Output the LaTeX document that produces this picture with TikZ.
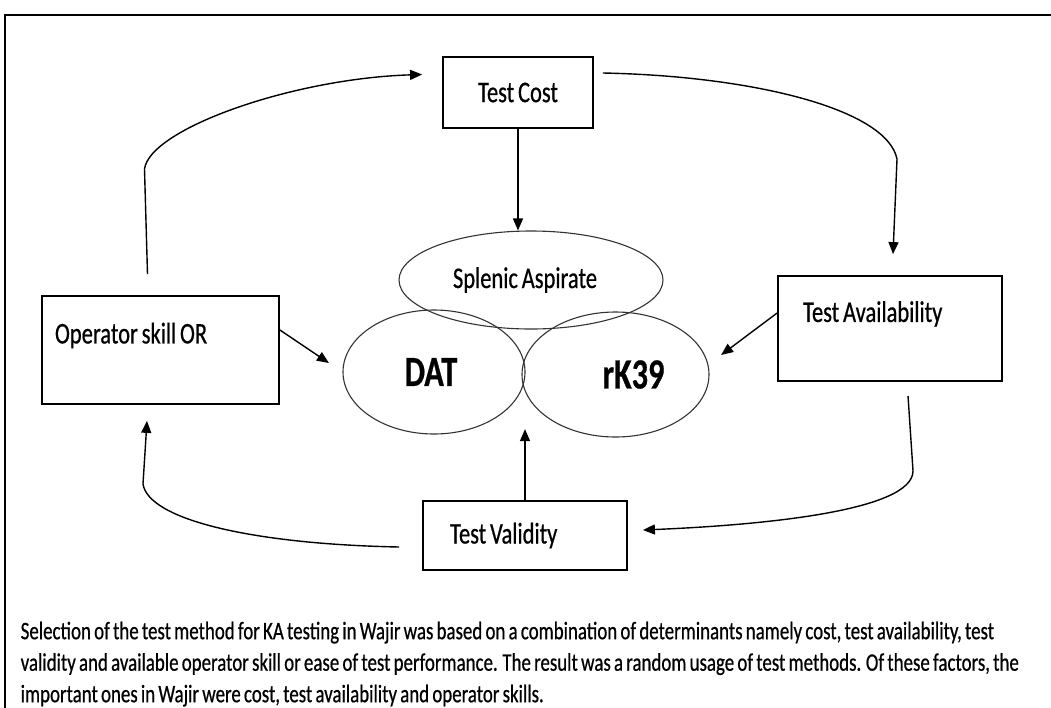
\documentclass[tikz,border=0pt]{standalone}
\usepackage{fontspec}
\setmainfont{Carlito}[FakeStretch=0.75,WordSpace=0.75,FakeBold=0.6]
\usetikzlibrary{shapes.geometric,arrows.meta}

\begin{document}
\begin{tikzpicture}[x=1pt,y=-1pt,line width=1.4pt,
      >={Triangle[length=12pt,width=10pt]},
      faktor/.style={draw,line width=1.8pt,inner sep=0pt,
        font=\fontsize{30}{34}\selectfont},
      metode/.style={draw=black!80,ellipse,line width=1.1pt,inner sep=0pt},
      catatan/.style={align=flush left,inner sep=0pt,
        font=\fontsize{25.2}{31.5}\selectfont}]

    \useasboundingbox (0,0) rectangle (1051,707);

    % --- Bingkai luar, terpotong di kanan dan bawah -------------------------
    \begin{scope}
      \clip (0,0) rectangle (1051,707);
      \draw[line width=2pt] (5,15) rectangle (1100,760);
    \end{scope}

    % --- Empat faktor penentu -------------------------------------------------
    \node[faktor,minimum width=150,minimum height=71] (cost) at (518,92.5)
      {Test Cost};
    \node[faktor,minimum width=237,minimum height=108,text width=211,
      align=flush left] (skill) at (160.5,350) {Operator skill OR\\\mbox{}};
    \node[faktor,minimum width=224,minimum height=105,text width=174,
      align=flush left] (avail) at (890,328.5) {Test Availability\\\mbox{}};
    \node[faktor,minimum width=204,minimum height=69,text width=150,
      align=flush left] (validity) at (525,535.5) {Test Validity};

    % --- Tiga metode uji ----------------------------------------------------
    \node[metode,minimum width=264,minimum height=98,
      font=\fontsize{30}{34}\selectfont] (splenic) at (531,280)
      {Splenic Aspirate\hspace*{12pt}};
    \node[metode,minimum width=182,minimum height=124,
      font=\fontsize{43}{44}\selectfont\bfseries] (dat) at (434,372)
      {DAT\hspace*{6pt}};
    \node[metode,minimum width=187,minimum height=125,
      font=\fontsize{43}{44}\selectfont\bfseries] (rk) at (615.5,374.5)
      {\hspace*{36pt}rK39};

    % --- Keterangan ---------------------------------------------------------
    \node[catatan,anchor=north west] (caption) at (20,621)
      {Selection of the test method for KA testing in Wajir was based on a
       combination of determinants namely cost, test availability, test\\
       validity and available operator skill or ease of test performance.
       The result was a random usage of test methods. Of these factors, the\\
       important ones in Wajir were cost, test availability and operator
       skills.};

    % --- Ujung bebas panah ----------------------------------------------------
    \coordinate (a1) at ([shift={(-13,-21)}]skill.north);
    \coordinate (a2) at ([shift={(-20,-18)}]cost.west);
    \coordinate (b1) at ([shift={(9,-19.5)}]cost.east);
    \coordinate (b2) at ([shift={(3,-21)}]avail.north);
    \coordinate (c1) at ([shift={(18,14)}]avail.south);
    \coordinate (c2) at ([shift={(15,-5.5)}]validity.east);
    \coordinate (d1) at ([shift={(-23,11.5)}]validity.west);
    \coordinate (d2) at ([shift={(-13.5,16)}]skill.south);
    \coordinate (e1) at ([shift={(0,-15.5)}]avail.west);
    \coordinate (e2) at ([shift={(-56,42)}]e1);
    \coordinate (f1) at ([shift={(0,-20)}]skill.east);
    \coordinate (f2) at ([shift={(49,33)}]f1);
    \coordinate (g2) at ([shift={(0,-71)}]validity.north);

    % --- Panah --------------------------------------------------------------
    % Lingkaran luar: biaya -> ketersediaan -> validitas -> keterampilan.
    \draw[->] (a1) -- ++(-3,-105) .. controls +(5,-40) and +(-130,4) .. (a2);
    \draw[->] (b1) .. controls +(150,3) and +(-10,-50)
      .. ([shift={(4,-95)}]b2) -- (b2);
    \draw[->] (c1) -- ++(5,75) .. controls +(0,40) and +(120,-5) .. (c2);
    \draw[->] (d1) .. controls +(-150,-3) and +(5,35)
      .. ([shift={(-4,63)}]d2) -- (d2);
    % Panah masuk ke metode uji.
    \draw[->] (cost.south) -- (cost.south |- splenic.north);
    \draw[->] (e1) -- (e2);
    \draw[->] (f1) -- (f2);
    \draw[->] (validity.north) -- (g2);
  \end{tikzpicture}
\end{document}
